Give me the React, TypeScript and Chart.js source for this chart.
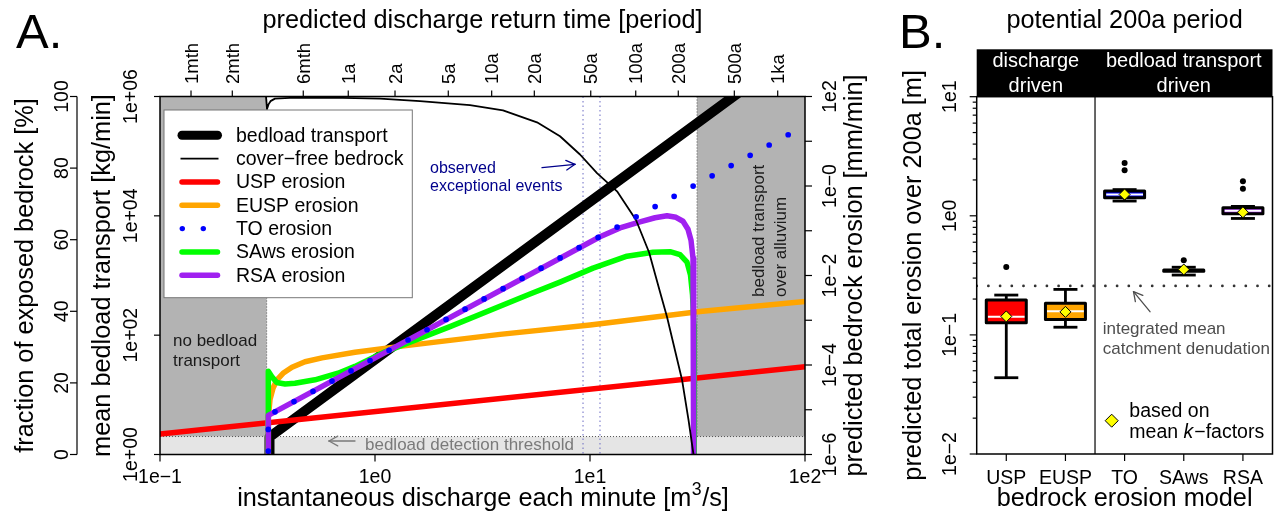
import React, { useEffect, useRef } from 'react';
import { Chart, registerables } from 'chart.js';

Chart.register(...registerables);

const FONT = '"Liberation Sans", Arial, Helvetica, sans-serif';

// ---------------- Panel A data ----------------
const Q_TICKS = [0.1, 1, 10, 100];
const Q_TICK_LABELS = ['1e\u22121', '1e0', '1e1', '1e2'];

const RETURN_LABELS = ['1mth', '2mth', '6mth', '1a', '2a', '5a', '10a', '20a', '50a', '100a', '200a', '500a', '1ka'];
const RETURN_Q = [0.1394, 0.2169, 0.4638, 0.751, 1.239, 2.192, 3.489, 5.508, 10.08, 16.32, 25.74, 46.91, 74.65];

const PCT_TICKS = [0, 20, 40, 60, 80, 100];
const BED_TICKS = [1, 1e2, 1e4, 1e6];
const BED_TICK_LABELS = ['1e+00', '1e+02', '1e+04', '1e+06'];
const ERO_TICKS = [1e-6, 1e-5, 1e-4, 1e-3, 1e-2, 1e-1, 1, 10, 100];
const ERO_LABEL_VALUES = [1e-6, 1e-4, 1e-2, 1, 100];
const ERO_LABELS = ['1e\u22126', '1e\u22124', '1e\u22122', '1e\u22120', '1e2'];

const BEDLOAD_THRESHOLD = 2; // kg/min
const Q_CRITICAL = 0.3134;
const Q_ALLUVIUM = 31.45;
const OBSERVED_EVENTS_Q = [9.28, 11.13];

const BEDLOAD_Q = [0.3231, 0.3231, 100];
const BEDLOAD_KG = [0.3, 1.96, 7.6e6];

const COVER_Q = [0.3112, 0.3146, 0.3197, 0.3266, 0.3426, 0.4023, 0.6174, 1.055, 1.619, 2.766, 3.939, 5.668, 7.253, 8.985, 10.78, 13.36, 16.37, 18.82, 21.17, 22.82, 26.79, 28.72, 30.3];
const COVER_PCT = [100, 96.5, 97.8, 98.7, 99.4, 99.6, 99.7, 99.4, 98.7, 97.6, 96.1, 92.8, 88.9, 83.8, 78.6, 73.5, 65.5, 56.5, 45.4, 38.4, 20.9, 9.7, 0];

const USP_Q = [0.1, 100];
const USP_E = [2.86e-6, 9.1e-5];

const EUSP_Q = [0.319, 0.319, 0.3248, 0.3354, 0.35, 0.3734, 0.4111, 0.4725, 0.5669, 0.8071, 1.307, 3.814, 10.0, 32.47, 100];
const EUSP_E = [1e-7, 6.67e-6, 1.68e-5, 3.03e-5, 4.67e-5, 6.53e-5, 8.89e-5, 1.18e-4, 1.44e-4, 1.92e-4, 2.61e-4, 4.83e-4, 7.85e-4, 1.57e-3, 2.62e-3];

const TO_Q = [0.319, 0.319, 100];
const TO_E = [1e-7, 7.46e-6, 22.3];

const SAWS_Q = [0.319, 0.319, 0.3308, 0.349, 0.3815, 0.4245, 0.5259, 0.6729, 0.8071, 1.113, 2.233, 5.259, 7.253, 10.33, 14.86, 19.64, 23.56, 26.22, 28.26, 29.34, 29.98, 30.46, 30.54];
const SAWS_E = [1e-7, 7.24e-5, 5.55e-5, 4.07e-5, 3.76e-5, 3.91e-5, 4.67e-5, 6.56e-5, 9.31e-5, 1.97e-4, 7.19e-4, 3.86e-3, 7.13e-3, 0.0146, 0.027, 0.0332, 0.034, 0.0292, 0.0199, 0.0102, 0.00366, 7.85e-4, 1e-7];

const RSA_Q = [0.319, 0.319, 11.13, 13.79, 17.08, 20.06, 22.82, 25.12, 27.07, 28.56, 29.5, 30.14, 30.37, 30.37];
const RSA_E = [1e-7, 7.46e-6, 0.0734, 0.1153, 0.1585, 0.195, 0.216, 0.2, 0.163, 0.108, 0.0614, 0.0244, 0.00611, 1e-7];

const LEGEND_LABELS = ['bedload transport', 'cover\u2212free bedrock', 'USP erosion', 'EUSP erosion', 'TO erosion', 'SAws erosion', 'RSA erosion'];

// ---------------- Panel B data ----------------
const MODELS = ['USP', 'EUSP', 'TO', 'SAws', 'RSA'];
const BOX_Q1 = [0.1266, 0.1349, 1.421, 0.342, 1.04];
const BOX_Q3 = [0.196, 0.1846, 1.613, 0.351, 1.166];
const BOX_MEDIAN = [0.142, 0.158, 1.51, 0.346, 1.1];
const WHISKER_LO = [0.0437, 0.116, 1.33, 0.318, 0.95];
const WHISKER_HI = [0.216, 0.241, 1.66, 0.37, 1.2];
const MEAN_K = [0.143, 0.156, 1.51, 0.354, 1.07];
const OUTLIER_MODEL = ['USP', 'TO', 'TO', 'SAws', 'RSA', 'RSA'];
const OUTLIER_VALUE = [0.372, 2.78, 2.41, 0.424, 1.95, 1.69];
const DENUDATION = 0.258;
const B_TICKS = [0.01, 0.1, 1, 10];
const B_TICK_LABELS = ['1e\u22122', '1e\u22121', '1e0', '1e1'];

// ---------------- styles ----------------
const C_RED = '#ff0000';
const C_ORANGE = '#ffa500';
const C_BLUE = '#0000ff';
const C_GREEN = '#00ff00';
const C_PURPLE = '#a020f0';
const BOX_COLORS = [C_RED, C_ORANGE, C_BLUE, C_GREEN, C_PURPLE];
const TICK_FS = 19.5;
const TITLE_FS = 25.3;

const zip = (xs: number[], ys: number[]) => xs.map((x, i) => ({ x, y: ys[i] }));

function text(
  ctx: CanvasRenderingContext2D,
  s: string,
  x: number,
  y: number,
  size: number,
  o: { color?: string; align?: CanvasTextAlign; baseline?: CanvasTextBaseline; rot?: number; style?: string } = {}
) {
  ctx.save();
  ctx.font = `${o.style || ''} ${size}px ${FONT}`;
  ctx.fillStyle = o.color || '#000';
  ctx.textAlign = o.align || 'left';
  ctx.textBaseline = o.baseline || 'alphabetic';
  ctx.translate(x, y);
  if (o.rot) ctx.rotate(o.rot);
  ctx.fillText(s, 0, 0);
  ctx.restore();
}

function seg(ctx: CanvasRenderingContext2D, x1: number, y1: number, x2: number, y2: number) {
  ctx.beginPath();
  ctx.moveTo(x1, y1);
  ctx.lineTo(x2, y2);
  ctx.stroke();
}

function arrow(ctx: CanvasRenderingContext2D, x1: number, y1: number, x2: number, y2: number, color: string, lw = 1.3, head = 10) {
  ctx.save();
  ctx.strokeStyle = color;
  ctx.lineWidth = lw;
  ctx.lineCap = 'round';
  ctx.setLineDash([]);
  seg(ctx, x1, y1, x2, y2);
  const a = Math.atan2(y2 - y1, x2 - x1);
  for (const d of [Math.PI * 0.84, -Math.PI * 0.84]) {
    seg(ctx, x2, y2, x2 + head * Math.cos(a + d), y2 + head * Math.sin(a + d));
  }
  ctx.restore();
}

const R90 = -Math.PI / 2;

const panelAPlugin = {
  id: 'panelA',
  beforeDatasetsDraw(chart: any) {
    const { ctx, chartArea: ca, scales } = chart;
    const xs = scales.x;
    const bed = scales.bed;
    const yThr = bed.getPixelForValue(BEDLOAD_THRESHOLD);
    const xC = xs.getPixelForValue(Q_CRITICAL);
    const xAl = xs.getPixelForValue(Q_ALLUVIUM);
    ctx.save();
    ctx.fillStyle = '#e5e5e5';
    ctx.fillRect(ca.left, yThr, ca.right - ca.left, ca.bottom - yThr);
    ctx.fillStyle = '#b3b3b3';
    ctx.fillRect(ca.left, ca.top, xC - ca.left, yThr - ca.top);
    ctx.fillRect(xAl, ca.top, ca.right - xAl, yThr - ca.top);
    ctx.strokeStyle = '#555';
    ctx.lineWidth = 1;
    ctx.setLineDash([1, 2]);
    seg(ctx, ca.left, yThr, ca.right, yThr);
    seg(ctx, xC, ca.top, xC, yThr);
    seg(ctx, xAl, ca.top, xAl, yThr);
    ctx.strokeStyle = '#6b6bc4';
    ctx.setLineDash([1.5, 3]);
    OBSERVED_EVENTS_Q.forEach((q) => {
      const x = xs.getPixelForValue(q);
      seg(ctx, x, ca.top, x, ca.bottom);
    });
    ctx.restore();
  },
  afterDatasetsDraw(chart: any) {
    const { ctx, chartArea: ca, scales } = chart;
    const xs = scales.x;
    const bed = scales.bed;
    const ero = scales.ero;
    const pct = scales.pct;
    ctx.save();
    ctx.setLineDash([]);

    // annotations
    text(ctx, 'no bedload', 173, 345.5, 17, { color: '#1a1a1a' });
    text(ctx, 'transport', 173, 366, 17, { color: '#1a1a1a' });
    text(ctx, 'bedload detection threshold', 365, 449.5, 17, { color: '#7a7a7a' });
    arrow(ctx, 355, 441, 329, 441, '#7a7a7a');
    text(ctx, 'observed', 430, 172.7, 16, { color: '#00008b' });
    text(ctx, 'exceptional events', 430, 191, 16, { color: '#00008b' });
    arrow(ctx, 542, 167.7, 575, 164.3, '#00008b');
    text(ctx, 'bedload transport', 764, 297, 17, { color: '#1a1a1a', rot: R90 });
    text(ctx, 'over alluvium', 785.7, 297, 17, { color: '#1a1a1a', rot: R90 });

    // plot box
    ctx.strokeStyle = '#000';
    ctx.lineWidth = 1.5;
    ctx.strokeRect(ca.left, ca.top, ca.right - ca.left, ca.bottom - ca.top);

    // legend
    const L = { left: 164, top: 110, right: 412.3, bottom: 297.7 };
    ctx.fillStyle = '#fff';
    ctx.fillRect(L.left, L.top, L.right - L.left, L.bottom - L.top);
    ctx.strokeStyle = '#777';
    ctx.lineWidth = 1;
    ctx.strokeRect(L.left, L.top, L.right - L.left, L.bottom - L.top);
    const legendStyles = [
      { color: '#000', w: 9 },
      { color: '#000', w: 1.8 },
      { color: C_RED, w: 5.5 },
      { color: C_ORANGE, w: 5.5 },
      { color: C_BLUE, w: 0 },
      { color: C_GREEN, w: 5.5 },
      { color: C_PURPLE, w: 5.5 },
    ];
    LEGEND_LABELS.forEach((lab, i) => {
      const y = 135.3 + i * 23.33;
      const st = legendStyles[i];
      if (st.w > 0) {
        ctx.strokeStyle = st.color;
        ctx.lineWidth = st.w;
        ctx.lineCap = st.w > 2 ? 'round' : 'butt';
        seg(ctx, st.w > 2 ? 182 : 180.5, y, st.w > 2 ? 217.5 : 218.5, y);
      } else {
        ctx.fillStyle = st.color;
        [182.3, 203.3].forEach((cx) => {
          ctx.beginPath();
          ctx.arc(cx, y, 2.7, 0, Math.PI * 2);
          ctx.fill();
        });
      }
      text(ctx, lab, 236, y + 6.3, TICK_FS);
    });
    ctx.lineCap = 'butt';

    // bottom axis
    ctx.strokeStyle = '#000';
    ctx.lineWidth = 1.2;
    Q_TICKS.forEach((q, i) => {
      const x = xs.getPixelForValue(q);
      seg(ctx, x, ca.bottom, x, ca.bottom + 7);
      text(ctx, Q_TICK_LABELS[i], x, 483, TICK_FS, { align: 'center' });
    });
    // top axis
    RETURN_Q.forEach((q, i) => {
      const x = xs.getPixelForValue(q);
      seg(ctx, x, ca.top, x, ca.top - 6);
      text(ctx, RETURN_LABELS[i], x + 6.5, 84, 18.5, { rot: R90 });
    });
    // left outer axis (percent)
    seg(ctx, 77, pct.getPixelForValue(0), 77, pct.getPixelForValue(100));
    PCT_TICKS.forEach((v) => {
      const y = pct.getPixelForValue(v);
      seg(ctx, 70, y, 77, y);
      text(ctx, String(v), 68, y, TICK_FS, { align: 'center', rot: R90 });
    });
    // left inner axis (bedload)
    BED_TICKS.forEach((v, i) => {
      const y = bed.getPixelForValue(v);
      seg(ctx, ca.left - 6, y, ca.left, y);
      text(ctx, BED_TICK_LABELS[i], 137, y, TICK_FS, { align: 'center', rot: R90 });
    });
    // right axis (erosion)
    ERO_TICKS.forEach((v) => {
      const y = ero.getPixelForValue(v);
      seg(ctx, ca.right, y, ca.right + 7, y);
    });
    ERO_LABEL_VALUES.forEach((v, i) => {
      const y = ero.getPixelForValue(v);
      text(ctx, ERO_LABELS[i], 836, y, TICK_FS, { align: 'center', rot: R90 });
    });

    // titles
    const midY = (ca.top + ca.bottom) / 2;
    const midX = (ca.left + ca.right) / 2;
    text(ctx, 'A.', 16, 48, 49);
    text(ctx, 'predicted discharge return time [period]', midX, 28, TITLE_FS, { align: 'center' });
    text(ctx, 'fraction of exposed bedrock [%]', 33, midY, TITLE_FS, { align: 'center', rot: R90 });
    text(ctx, 'mean bedload transport [kg/min]', 110, midY, TITLE_FS, { align: 'center', rot: R90 });
    text(ctx, 'predicted bedrock erosion [mm/min]', 862, midY, TITLE_FS, { align: 'center', rot: R90 });
    // bottom title with superscript
    ctx.font = `${TITLE_FS}px ${FONT}`;
    const p1 = 'instantaneous discharge each minute [m';
    const p3 = '/s]';
    const w1 = ctx.measureText(p1).width;
    const w3 = ctx.measureText(p3).width;
    ctx.font = `${TITLE_FS * 0.7}px ${FONT}`;
    const w2 = ctx.measureText('3').width;
    const x0 = midX - (w1 + w2 + w3) / 2;
    text(ctx, p1, x0, 506, TITLE_FS);
    text(ctx, '3', x0 + w1 + 0.5, 495, TITLE_FS * 0.7);
    text(ctx, p3, x0 + w1 + w2 + 1, 506, TITLE_FS);
    ctx.restore();
  },
};

const panelBPlugin = {
  id: 'panelB',
  beforeDatasetsDraw(chart: any) {
    const { ctx, chartArea: ca, scales } = chart;
    const x = scales.x;
    const y = scales.y;
    ctx.save();
    // header band
    ctx.fillStyle = '#000';
    ctx.fillRect(ca.left, 49.3, ca.right - ca.left, ca.top - 49.3);
    text(ctx, 'discharge', x.getPixelForValue(1.5), 67, 20, { color: '#fff', align: 'center' });
    text(ctx, 'driven', x.getPixelForValue(1.5), 91.5, 20, { color: '#fff', align: 'center' });
    text(ctx, 'bedload transport', x.getPixelForValue(4), 67, 20, { color: '#fff', align: 'center' });
    text(ctx, 'driven', x.getPixelForValue(4), 91.5, 20, { color: '#fff', align: 'center' });
    // divider
    ctx.strokeStyle = '#000';
    ctx.lineWidth = 1.2;
    const xd = x.getPixelForValue(2.5);
    seg(ctx, xd, ca.top, xd, ca.bottom);
    // whiskers
    ctx.lineWidth = 2.8;
    MODELS.forEach((_, i) => {
      const cx = x.getPixelForValue(i + 1);
      const yHi = y.getPixelForValue(WHISKER_HI[i]);
      const yLo = y.getPixelForValue(WHISKER_LO[i]);
      seg(ctx, cx, y.getPixelForValue(BOX_Q3[i]), cx, yHi);
      seg(ctx, cx, y.getPixelForValue(BOX_Q1[i]), cx, yLo);
      seg(ctx, cx - 12, yHi, cx + 12, yHi);
      seg(ctx, cx - 12, yLo, cx + 12, yLo);
    });
    ctx.restore();
  },
  afterDatasetDraw(chart: any, args: any) {
    if (args.meta.type !== 'bar') return;
    const { ctx, scales } = chart;
    ctx.save();
    // medians (white) then box outlines
    args.meta.data.forEach((el: any, i: number) => {
      const yTop = Math.min(el.y, el.base);
      const h = Math.abs(el.base - el.y);
      const left = el.x - el.width / 2;
      if (h - 3 > 2.5) {
        ctx.strokeStyle = '#fff';
        ctx.lineWidth = 2;
        const ym = scales.y.getPixelForValue(BOX_MEDIAN[i]);
        seg(ctx, left + 1.5, ym, left + el.width - 1.5, ym);
      }
      ctx.strokeStyle = '#000';
      ctx.lineWidth = 3;
      ctx.lineJoin = 'round';
      ctx.strokeRect(left, yTop, el.width, h);
    });
    ctx.restore();
  },
  afterDatasetsDraw(chart: any) {
    const { ctx, chartArea: ca, scales } = chart;
    const x = scales.x;
    const y = scales.y;
    ctx.save();
    ctx.strokeStyle = '#000';
    ctx.lineWidth = 1.5;
    ctx.strokeRect(ca.left, ca.top, ca.right - ca.left, ca.bottom - ca.top);
    // y axis ticks
    ctx.lineWidth = 1.2;
    B_TICKS.forEach((v, i) => {
      const yy = y.getPixelForValue(v);
      seg(ctx, ca.left - 7, yy, ca.left, yy);
      text(ctx, B_TICK_LABELS[i], 86, yy, TICK_FS, { align: 'center', rot: R90 });
      if (i < B_TICKS.length - 1) {
        for (let k = 2; k <= 9; k++) {
          const ym = y.getPixelForValue(v * k);
          seg(ctx, ca.left - 4, ym, ca.left, ym);
        }
      }
    });
    // x axis ticks
    MODELS.forEach((m, i) => {
      const cx = x.getPixelForValue(i + 1);
      seg(ctx, cx, ca.bottom, cx, ca.bottom + 7);
      text(ctx, m, cx, 484, TICK_FS, { align: 'center' });
    });
    // annotations
    text(ctx, 'integrated mean', 232.7, 334, 17, { color: '#4d4d4d' });
    text(ctx, 'catchment denudation', 232.7, 354, 17, { color: '#4d4d4d' });
    arrow(ctx, 280, 311.7, 263.5, 291.7, '#4d4d4d');
    // legend for diamonds
    ctx.fillStyle = '#ffff00';
    ctx.strokeStyle = '#000';
    ctx.lineWidth = 1;
    const dx = 241.7, dy = 420.7, r = 6.5;
    ctx.beginPath();
    ctx.moveTo(dx - r, dy);
    ctx.lineTo(dx, dy - r);
    ctx.lineTo(dx + r, dy);
    ctx.lineTo(dx, dy + r);
    ctx.closePath();
    ctx.fill();
    ctx.stroke();
    text(ctx, 'based on', 259.3, 417, TICK_FS);
    ctx.font = `${TICK_FS}px ${FONT}`;
    const wMean = ctx.measureText('mean ').width;
    ctx.font = `italic ${TICK_FS}px ${FONT}`;
    const wK = ctx.measureText('k').width;
    text(ctx, 'mean ', 259.3, 438, TICK_FS);
    text(ctx, 'k', 259.3 + wMean, 438, TICK_FS, { style: 'italic' });
    text(ctx, '\u2212factors', 259.3 + wMean + wK + 1, 438, TICK_FS);
    // titles
    const midY = (ca.top + ca.bottom) / 2;
    text(ctx, 'B.', 29, 48, 49);
    text(ctx, 'potential 200a period', x.getPixelForValue(3), 28, TITLE_FS, { align: 'center' });
    text(ctx, 'predicted total erosion over 200a [m]', 51, midY, TITLE_FS, { align: 'center', rot: R90 });
    text(ctx, 'bedrock erosion model', x.getPixelForValue(3), 506, TITLE_FS, { align: 'center' });
    ctx.restore();
  },
};

export default function App() {
  const refA = useRef<HTMLCanvasElement>(null);
  const refB = useRef<HTMLCanvasElement>(null);

  useEffect(() => {
    const line = (data: any[], axis: string, color: string, width: number, extra: any = {}) => ({
      type: 'line',
      data,
      yAxisID: axis,
      borderColor: color,
      borderWidth: width,
      pointRadius: 0,
      fill: false,
      tension: 0,
      borderJoinStyle: 'round',
      borderCapStyle: 'round',
      ...extra,
    });

    const chartA = new Chart(refA.current as HTMLCanvasElement, {
      type: 'line',
      data: {
        datasets: [
          line(zip(TO_Q, TO_E), 'ero', C_BLUE, 5.7, { borderDash: [0, 21.6], borderDashOffset: 16.6, label: 'TO erosion' }),
          line(zip(COVER_Q, COVER_PCT), 'pct', '#000', 1.8, { label: 'cover-free bedrock' }),
          line(zip(RSA_Q, RSA_E), 'ero', C_PURPLE, 5.5, { label: 'RSA erosion' }),
          line(zip(SAWS_Q, SAWS_E), 'ero', C_GREEN, 5.5, { label: 'SAws erosion' }),
          line(zip(EUSP_Q, EUSP_E), 'ero', C_ORANGE, 5.5, { label: 'EUSP erosion' }),
          line(zip(USP_Q, USP_E), 'ero', C_RED, 5.5, { label: 'USP erosion' }),
          line(zip(BEDLOAD_Q, BEDLOAD_KG), 'bed', '#000', 10, { label: 'bedload transport' }),
        ] as any,
      },
      options: {
        responsive: false,
        animation: false,
        events: [],
        layout: { padding: { left: 160, top: 96.5, right: 75, bottom: 61.5 } },
        plugins: { legend: { display: false }, tooltip: { enabled: false } },
        scales: {
          x: { type: 'logarithmic', min: 0.1, max: 100, display: false },
          bed: { type: 'logarithmic', position: 'left', min: 1, max: 1e6, display: false },
          ero: { type: 'logarithmic', position: 'right', min: 1e-6, max: 100, display: false },
          pct: { type: 'linear', position: 'left', min: 0, max: 100, display: false },
        },
      } as any,
      plugins: [panelAPlugin],
    });

    const modelX = MODELS.map((_, i) => i + 1);
    const outlierX = OUTLIER_MODEL.map((m) => MODELS.indexOf(m) + 1);

    const chartB = new Chart(refB.current as HTMLCanvasElement, {
      type: 'bar',
      data: {
        datasets: [
          {
            type: 'line',
            label: 'mean k-factors',
            data: zip(modelX, MEAN_K),
            showLine: false,
            pointStyle: 'rectRot',
            pointRadius: 5.5,
            pointBackgroundColor: '#ffff00',
            pointBorderColor: '#000',
            pointBorderWidth: 1,
          },
          {
            type: 'line',
            label: 'outliers',
            data: zip(outlierX, OUTLIER_VALUE),
            showLine: false,
            pointRadius: 3,
            pointBackgroundColor: '#000',
            pointBorderColor: '#000',
            pointBorderWidth: 0,
          },
          {
            type: 'line',
            label: 'integrated mean catchment denudation',
            data: [
              { x: 0.5, y: DENUDATION },
              { x: 5.5, y: DENUDATION },
            ],
            borderColor: '#333',
            borderWidth: 2.8,
            borderDash: [0, 11.7],
            borderCapStyle: 'round',
            pointRadius: 0,
          },
          {
            type: 'bar',
            label: 'boxes',
            data: modelX.map((x, i) => ({ x, y: [BOX_Q1[i], BOX_Q3[i]] })),
            backgroundColor: BOX_COLORS,
            borderWidth: 0,
            barThickness: 40,
          },
        ] as any,
      },
      options: {
        responsive: false,
        animation: false,
        events: [],
        layout: { padding: { left: 106.7, top: 96.7, right: 2.3, bottom: 62 } },
        plugins: { legend: { display: false }, tooltip: { enabled: false } },
        scales: {
          x: { type: 'linear', min: 0.5, max: 5.5, offset: false, display: false },
          y: { type: 'logarithmic', min: 0.01, max: 10, display: false },
        },
      } as any,
      plugins: [panelBPlugin],
    });

    return () => {
      chartA.destroy();
      chartB.destroy();
    };
  }, []);

  return (
    <div style={{ position: 'fixed', left: 0, top: 0, width: 1279, height: 516, background: '#fff', overflow: 'hidden' }}>
      <canvas ref={refA} width={880} height={516} style={{ position: 'absolute', left: 0, top: 0 }} />
      <canvas ref={refB} width={409} height={516} style={{ position: 'absolute', left: 870, top: 0 }} />
    </div>
  );
}
